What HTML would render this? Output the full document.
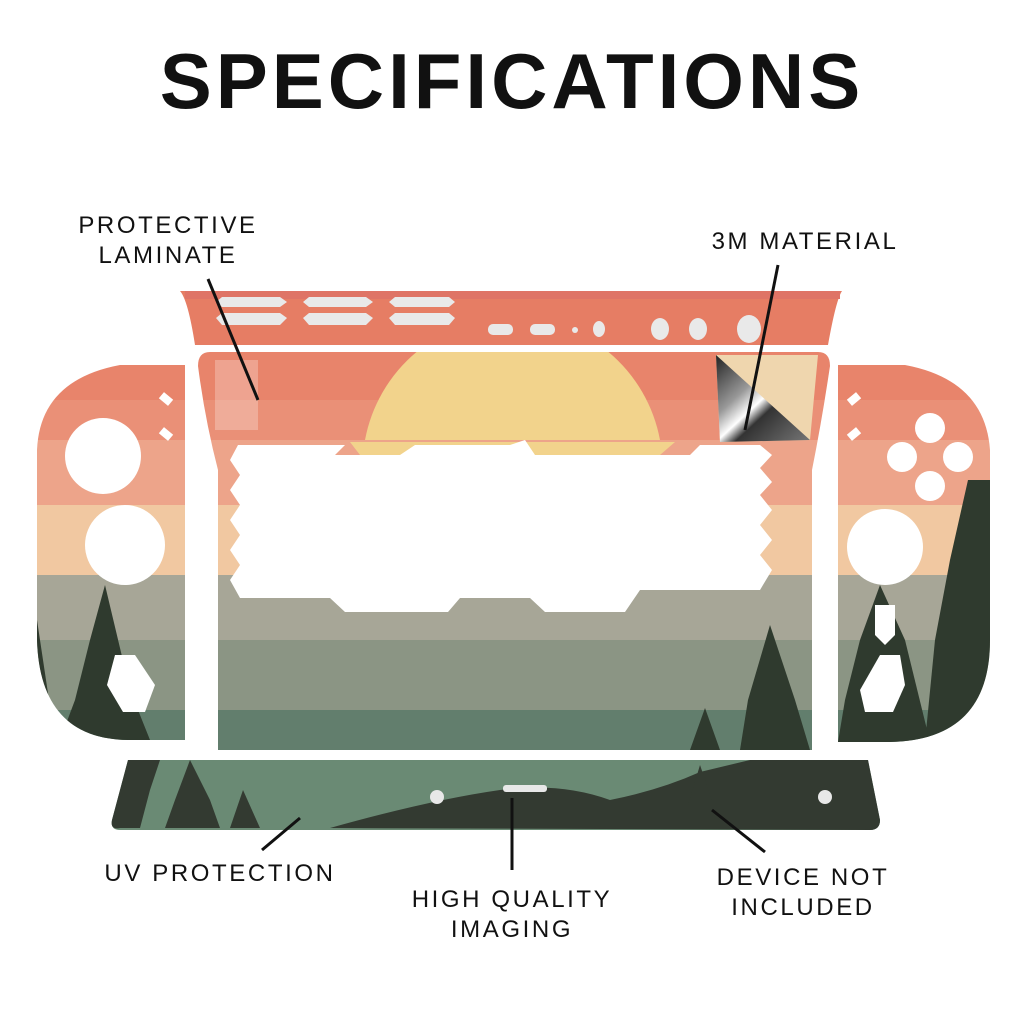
<!DOCTYPE html>
<html><head><style>
html,body{margin:0;padding:0;background:#fff;}
body{width:1024px;height:1024px;overflow:hidden;}
</style></head><body>
<svg width="1024" height="1024" viewBox="0 0 1024 1024" xmlns="http://www.w3.org/2000/svg">
<defs>
<clipPath id="cp"><path d="M210,352 H818 Q830,352 830,366 Q822,420 812,470 V750 H218 V470 Q205,420 198,366 Q198,352 210,352Z"/></clipPath>
<clipPath id="lj"><path d="M185,365 V740 H130 Q40,740 37,640 V450 Q40,380 120,365Z"/></clipPath>
<clipPath id="rj"><path d="M838,365 V742 H890 Q990,740 990,640 V450 Q985,380 905,365Z"/></clipPath>
<linearGradient id="metal" x1="0" y1="0" x2="1" y2="1"><stop offset="0" stop-color="#222"/><stop offset="0.35" stop-color="#999"/><stop offset="0.5" stop-color="#fff"/><stop offset="0.6" stop-color="#333"/><stop offset="1" stop-color="#777"/></linearGradient>
<g id="stripes">
<rect x="0" y="340" width="1024" height="60" fill="#e8846b"/>
<rect x="0" y="400" width="1024" height="40" fill="#ea9077"/>
<rect x="0" y="440" width="1024" height="65" fill="#eda48a"/>
<rect x="0" y="505" width="1024" height="70" fill="#f1c8a1"/>
<rect x="0" y="575" width="1024" height="65" fill="#a7a697"/>
<rect x="0" y="640" width="1024" height="70" fill="#8b9584"/>
<rect x="0" y="710" width="1024" height="45" fill="#627e6d"/>
</g>
</defs>
<text x="512" y="108" text-anchor="middle" font-family="Liberation Sans, sans-serif" font-weight="bold" font-size="78" letter-spacing="4" fill="#111">SPECIFICATIONS</text>

<!-- top strip -->
<path d="M180,291 H842 Q836,300 828,345 H195 Q188,300 180,291Z" fill="#e67d64"/>
<rect x="185" y="291" width="655" height="8" fill="#df7466"/>
<g fill="#e9e9e9">
<path d="M222,297 H280 L287,302 L280,307 H222 L216,302Z"/><path d="M222,313 H280 L287,318 L280,325 H222 L216,318Z"/>
<path d="M309,297 H366 L373,302 L366,307 H309 L303,302Z"/>
<path d="M309,313 H366 L373,318 L366,325 H309 L303,318Z"/>
<path d="M395,297 H449 L455,302 L449,307 H395 L389,302Z"/><path d="M395,313 H449 L455,318 L449,325 H395 L389,318Z"/>
<rect x="488" y="324" width="25" height="11" rx="5"/><rect x="530" y="324" width="25" height="11" rx="5"/>
<circle cx="575" cy="330" r="3"/><ellipse cx="599" cy="329" rx="6" ry="8"/>
<ellipse cx="660" cy="329" rx="9" ry="11"/><ellipse cx="698" cy="329" rx="9" ry="11"/><ellipse cx="749" cy="329" rx="12" ry="14"/>
</g>

<!-- center panel -->
<g clip-path="url(#cp)">
<use href="#stripes"/>
<path d="M365,440 A150,150 0 0 1 660,440Z" fill="#f2d38c"/>
<path d="M350,442 H675 L660,455 H530 L520,468 H490 L480,455 H360Z" fill="#f2d38c"/>
<path d="M238,445 H345 L335,455 H400 L415,445 H510 L525,440 L535,455 H690 L700,445 H760 L772,455 L760,468 L772,482 L760,495 L772,510 L760,525 L772,540 L760,555 L772,570 L760,590 L640,590 L625,612 H545 L530,598 H460 L448,612 H345 L330,598 H240 L230,580 L240,565 L230,550 L240,535 L230,520 L240,505 L230,490 L240,475 L230,460Z" fill="#fff"/>
<path d="M770,625 L748,700 L740,750 H810 L795,700Z" fill="#2f3a2e"/>
<path d="M705,708 L690,750 H720Z" fill="#2f3a2e"/>
</g>
<path d="M215,360 H258 V430 H215Z" fill="#fff" opacity="0.25"/>
<path d="M716,355 H818 L810,440 L720,442Z" fill="#efd6ae"/>
<path d="M716,355 L810,440 L720,442Z" fill="url(#metal)"/>

<!-- left joycon -->
<g clip-path="url(#lj)">
<use href="#stripes"/>
<path d="M105,585 L90,640 L75,700 L60,740 H150 L130,690 Z" fill="#2f3a2e"/>
<path d="M37,620 L55,740 H37Z" fill="#2f3a2e"/>
<circle cx="103" cy="456" r="38" fill="#fff"/>
<circle cx="125" cy="545" r="40" fill="#fff"/>
<path d="M115,655 H135 L155,685 L145,712 H123 L107,685Z" fill="#fff"/>
<rect x="160" y="395" width="12" height="8" fill="#fff" transform="rotate(40 166 399)"/>
<rect x="160" y="430" width="12" height="8" fill="#fff" transform="rotate(40 166 434)"/>
</g>
<!-- right joycon -->
<g clip-path="url(#rj)">
<use href="#stripes"/>
<path d="M968,480 L950,560 L935,640 L925,742 H1000 V480Z" fill="#2f3a2e"/>
<path d="M880,585 L860,640 L845,700 L838,742 H930 L905,640Z" fill="#2f3a2e"/>
<circle cx="930" cy="428" r="15" fill="#fff"/><circle cx="902" cy="457" r="15" fill="#fff"/>
<circle cx="958" cy="457" r="15" fill="#fff"/><circle cx="930" cy="486" r="15" fill="#fff"/>
<circle cx="885" cy="547" r="38" fill="#fff"/>
<path d="M875,605 H895 V635 L885,645 L875,635Z" fill="#fff"/>
<path d="M880,655 H900 L905,685 L893,712 H865 L860,690Z" fill="#fff"/>
<rect x="848" y="395" width="12" height="8" fill="#fff" transform="rotate(-40 854 399)"/>
<rect x="848" y="430" width="12" height="8" fill="#fff" transform="rotate(-40 854 434)"/>
</g>

<!-- bottom strip -->
<path d="M128,760 H868 L880,820 Q880,830 870,830 H120 Q110,830 112,820Z" fill="#6a8a74"/>
<path d="M330,828 Q430,800 500,790 Q560,782 610,800 Q660,790 700,772 L750,760 H868 L880,820 Q880,830 870,830Z" fill="#333a31"/>
<path d="M128,760 H160 L150,790 L140,828 H120 Q110,830 112,820Z" fill="#333a31"/>
<path d="M190,760 L175,800 L165,828 H220 L210,800Z" fill="#333a31"/>
<path d="M243,790 L230,828 H260Z" fill="#333a31"/>
<path d="M700,765 L688,805 L682,812 H725 L712,800Z" fill="#333a31"/>
<circle cx="437" cy="797" r="7" fill="#e8e8e8"/><circle cx="825" cy="797" r="7" fill="#e8e8e8"/>
<rect x="503" y="785" width="44" height="7" rx="3" fill="#e8e8e8"/>

<!-- leader lines -->
<g stroke="#111" stroke-width="3" fill="none">
<line x1="208" y1="279" x2="258" y2="400"/>
<line x1="778" y1="265" x2="745" y2="430"/>
<line x1="262" y1="850" x2="300" y2="818"/>
<line x1="512" y1="798" x2="512" y2="870"/>
<line x1="712" y1="810" x2="765" y2="852"/>
</g>
<g font-family="Liberation Sans, sans-serif" font-size="24" fill="#111" letter-spacing="2.6" text-anchor="middle">
<text x="168" y="233">PROTECTIVE</text><text x="168" y="263">LAMINATE</text>
<text x="805" y="249">3M MATERIAL</text>
<text x="220" y="881">UV PROTECTION</text>
<text x="512" y="907">HIGH QUALITY</text><text x="512" y="937">IMAGING</text>
<text x="803" y="885">DEVICE NOT</text><text x="803" y="915">INCLUDED</text>
</g>
</svg>
</body></html>
